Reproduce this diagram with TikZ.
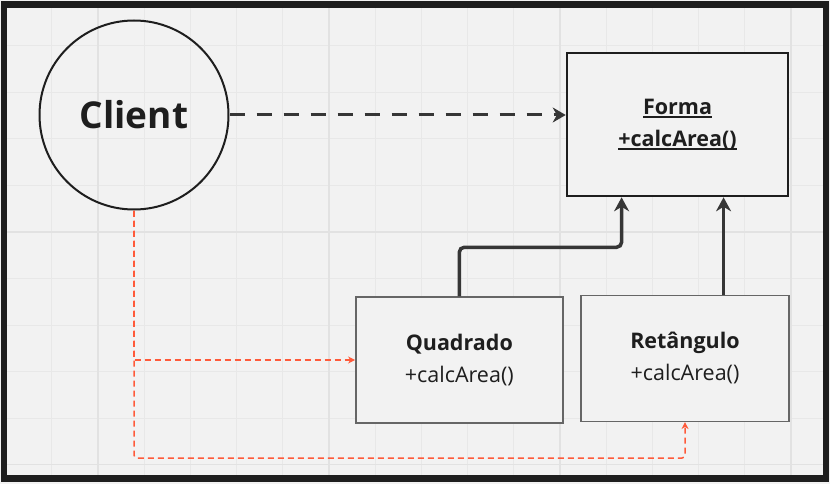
\documentclass[tikz,border=0pt]{standalone}
\usepackage{fontspec}
\setmainfont{Open Sans}
\usetikzlibrary{arrows.meta, positioning, calc}
\definecolor{bgcolor}{HTML}{F2F2F2}
\definecolor{gridcolor}{HTML}{E8E8E8}
\definecolor{majorcolor}{HTML}{E2E2E2}
\definecolor{inkcolor}{HTML}{1E1E1E}
\definecolor{linkcolor}{HTML}{363636}
\definecolor{usecolor}{HTML}{FF5A3A}
\definecolor{boxcolor}{HTML}{666666}

% underline that sits just under the baseline
\newcommand{\ulText}[1]{\setbox0\hbox{#1}\rlap{\rule[-3.2pt]{\wd0}{1.6pt}}\box0}

\begin{document}
\begin{tikzpicture}[x=1pt, y=-1pt,
    gridline/.style={gridcolor, line width=1pt},
    majorline/.style={majorcolor, line width=1.6pt},
    clientnode/.style={circle, draw=inkcolor, line width=2pt, minimum size=189pt, inner sep=0pt, text=inkcolor, font=\fontsize{37}{37}\selectfont\bfseries},
    abstractbox/.style={rectangle, draw=inkcolor, line width=2.6pt, fill=bgcolor, minimum width=221pt, minimum height=143pt, align=center, text=inkcolor, font=\fontsize{21.5}{32}\selectfont\bfseries},
    classbox/.style={rectangle, draw=boxcolor, line width=1.5pt, fill=bgcolor, minimum width=207pt, minimum height=126pt, align=center, text=inkcolor, font=\fontsize{21.5}{32}\selectfont},
    depends/.style={linkcolor, line width=3pt, dash pattern=on 15pt off 12pt, -{Stealth[length=13pt, width=15pt]}},
    inherit/.style={linkcolor, line width=3.5pt, -{Stealth[length=14pt, width=15pt]}},
    uses/.style={usecolor, line width=1.5pt, dash pattern=on 6pt off 4pt, -{Stealth[length=7pt, width=7pt]}}]

    % Canvas and grid
    \fill[bgcolor] (0,0) rectangle (830,484);
    \useasboundingbox (0,0) rectangle (830,484);
    \foreach \i in {0,...,17}
        \draw[gridline] ({5.6+46.2*\i},7) -- ({5.6+46.2*\i},476);
    \foreach \j in {1,...,10}
        \draw[gridline] (7,{-0.5+46.5*\j}) -- (823,{-0.5+46.5*\j});
    \foreach \i in {98,329,560,791}
        \draw[majorline] (\i,7) -- (\i,476);
    \foreach \j in {232,464.5}
        \draw[majorline] (7,\j) -- (823,\j);

    % Client and classes
    \node[clientnode] (client) at (134,115) {Client};
    \node[abstractbox] (forma) at (677.5,124.5) {\ulText{Forma}\\\ulText{+calcArea()}};
    \node[classbox] (quadrado) at (459.3,360) {\textbf{Quadrado}\\+calcArea()};
    \node[classbox, minimum width=208pt] (retangulo) at (685,358.3) {\textbf{Retângulo}\\+calcArea()};

    % Dependency of the client on the abstraction
    \draw[depends] (client.east) -- (client.east -| forma.west);

    % Inheritance
    \coordinate (qa) at ($(forma.south west)!0.25!(forma.south east)$);
    \coordinate (ra) at ($(forma.south west)!0.706!(forma.south east)$);
    \draw[inherit, rounded corners=5pt] (quadrado.north) -- ++(0,-49) -| (qa);
    \draw[inherit] (retangulo.north -| ra) -- (ra);

    % Client uses the concrete classes
    \coordinate (turn) at ($(client.south)+(0,247.5)$);
    \draw[uses] (client.south) |- (quadrado.west);
    \draw[uses, rounded corners=3pt] (client.south) -- (turn) -| (retangulo.south);

    % Frame
    \draw[inkcolor, line width=6.5pt] (4,4.5) rectangle (826,478.5);
\end{tikzpicture}
\end{document}
